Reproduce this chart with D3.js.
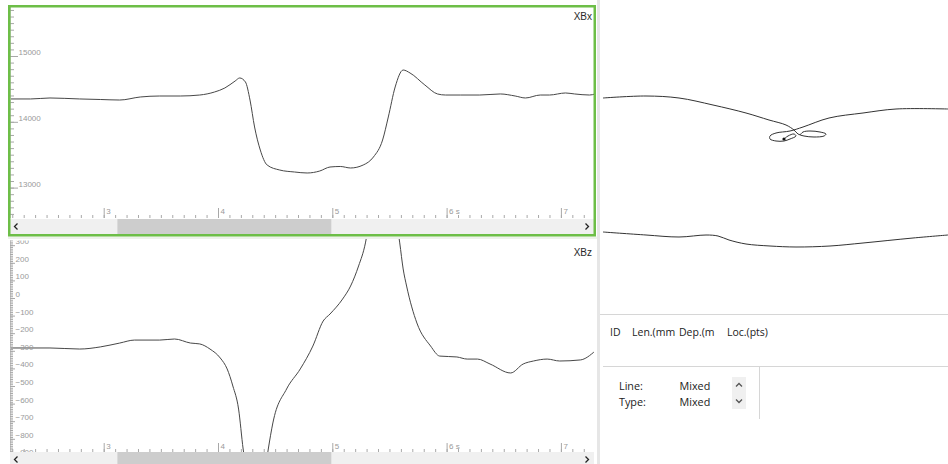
<!DOCTYPE html>
<html><head><meta charset="utf-8">
<script src="https://cdn.jsdelivr.net/npm/d3@7"></script>
<style>
html,body{margin:0;padding:0;background:#fff;overflow:hidden}
svg{display:block;font-family:"Liberation Sans",Arial,sans-serif}
</style></head><body>
<svg id="c" width="948" height="464"></svg>
<script>
// ---------- data ----------
const xbxTime  = [2.18,2.36,2.53,2.79,2.97,3.14,3.32,3.49,3.67,3.84,3.97,4.06,4.15,4.19,4.24,4.28,4.32,4.37,4.43,4.54,4.67,4.78,4.89,4.98,5.07,5.16,5.27,5.36,5.44,5.49,5.55,5.62,5.68,5.81,5.92,5.99,6.12,6.29,6.47,6.60,6.69,6.82,6.90,7.04,7.12,7.25,7.30];
const xbxValue = [14347,14347,14362,14347,14339,14331,14377,14392,14392,14407,14453,14514,14620,14666,14605,14331,13921,13571,13343,13267,13237,13222,13252,13313,13321,13298,13343,13465,13723,14073,14529,14787,14742,14559,14423,14407,14407,14407,14423,14392,14362,14407,14407,14438,14423,14407,14423];
const xbzTime  = [2.18,2.53,2.79,2.97,3.14,3.27,3.49,3.62,3.76,3.84,3.93,4.02,4.08,4.13,4.18,4.22,4.28,4.33,4.39,4.44,4.48,4.60,4.72,4.83,4.92,4.98,5.09,5.16,5.23,5.29,5.35,5.44,5.52,5.59,5.62,5.65,5.74,5.86,5.94,6.09,6.18,6.27,6.38,6.56,6.67,6.76,6.88,6.99,7.17,7.30];
const xbzValue = [-284,-284,-290,-278,-256,-239,-239,-233,-256,-261,-290,-341,-403,-500,-631,-858,-1080,-1160,-1080,-858,-710,-517,-403,-273,-131,-91,-6,68,182,313,560,720,600,313,165,68,-142,-273,-330,-335,-347,-347,-375,-426,-375,-358,-347,-358,-352,-301];
const timeTicks = [3,4,5,6,7];
const timeTickLabels = ["3","4","5","6 s","7"];
const xbxTicks = [13000,14000,15000];
const xbzTicks = [300,200,100,0,-100,-200,-300,-400,-500,-600,-700,-800,-900];
const channelNames = ["XBx","XBz"];
// XY trace (right view), arbitrary plan units
const traceUpper = [[5,98],[48,96],[81,98],[115,105],[148,113],[171,120],[188,125],[196,130],[200,134],[206,136],[216,137],[226,136],[228,134],[222,132],[212,131],[205,132],[202,135]];
const traceReturn = [[350,109],[298,109],[265,113],[231,118],[205,127],[192,131],[178,133],[172,136],[172,139],[178,141],[186,141],[192,139],[198,136],[196,134],[190,136],[186,139]];
const traceLower = [[5,232],[48,235],[81,237],[108,235],[120,236],[131,240],[148,244],[172,246],[198,247],[232,246],[265,243],[315,238],[350,235]];
const traceMarker = [[186,139]];
const tableHeaders = ["ID","Len.(mm","Dep.(m","Loc.(pts)"];
const propLabels = ["Line:","Type:"];
const propValues = ["Mixed","Mixed"];

// ---------- drawing ----------
const svg = d3.select("#c");
svg.append("rect").attr("width",948).attr("height",464).attr("fill","#fff");
const defs = svg.append("defs");
defs.append("clipPath").attr("id","clipTop").append("rect").attr("x",10).attr("y",7).attr("width",584).attr("height",211);
defs.append("clipPath").attr("id","clipBot").append("rect").attr("x",10).attr("y",239).attr("width",584).attr("height",213);
defs.append("clipPath").attr("id","clipBotAx").append("rect").attr("x",10).attr("y",240.5).attr("width",584).attr("height",211.5);

const x = d3.scaleLinear().domain([3,7]).range([103.7,560.9]);
const yTop = d3.scaleLinear().domain([13000,15000]).range([187.6,56]);
const yBot = d3.scaleLinear().domain([-800,200]).range([438.8,262.8]);

const tickCol = "#a8a8a8", labCol = "#9a9a9a", lineCol = "#474747";

function chevron(g, cx, cy, dir){
  const p = dir==="l" ? `M${cx+1.5},${cy-3}L${cx-1.5},${cy}L${cx+1.5},${cy+3}` :
            dir==="r" ? `M${cx-1.5},${cy-3}L${cx+1.5},${cy}L${cx-1.5},${cy+3}` :
            dir==="u" ? `M${cx-3},${cy+1.5}L${cx},${cy-1.5}L${cx+3},${cy+1.5}` :
                        `M${cx-3},${cy-1.5}L${cx},${cy+1.5}L${cx+3},${cy-1.5}`;
  g.append("path").attr("d",p).attr("fill","none").attr("stroke", dir==="l"||dir==="r" ? "#222":"#555").attr("stroke-width",1.3);
}

function drawPanel(opt){
  const g = svg.append("g");
  const y = opt.y;
  const line = d3.line().x(d=>x(d[0])).y(d=>y(d[1])).curve(d3.curveMonotoneX);
  const data = opt.t.map((t,i)=>[t,opt.v[i]]);
  g.append("g").attr("clip-path",`url(#${opt.clip})`)
    .append("path").datum(data).attr("d",line)
    .attr("fill","none").attr("stroke",lineCol).attr("stroke-width",1);

  const ya = g.append("g").attr("clip-path",`url(#${opt.axClip})`);
  ya.append("line").attr("x1",10.5).attr("x2",10.5).attr("y1",opt.top).attr("y2",opt.axisY).attr("stroke","#c8c8c8");
  ya.append("g").attr("transform","translate(10,0)")
    .call(d3.axisRight(y).tickValues(opt.minorY).tickSize(opt.minorLen).tickFormat(""))
    .call(s=>{s.select(".domain").remove(); s.selectAll("line").attr("stroke",tickCol);});
  ya.append("g").attr("transform","translate(10,0)")
    .call(d3.axisRight(y).tickValues(opt.majorY).tickSize(opt.majorLen).tickFormat(d3.format("d")))
    .call(s=>{
      s.select(".domain").remove();
      s.selectAll("line").attr("stroke",tickCol);
      s.selectAll("text").attr("x",opt.labX).attr("y",-1.5).attr("dy",0).attr("text-anchor","start")
        .attr("fill",labCol).attr("font-size",8).attr("font-family","Liberation Sans,Arial,sans-serif");
    });

  const xa = g.append("g").attr("transform",`translate(0,${opt.axisY})`);
  const minorX = d3.range(22,73).map(d=>d/10);
  xa.call(d3.axisTop(x).tickValues(minorX).tickSize(3).tickFormat(""))
    .call(s=>{s.select(".domain").remove(); s.selectAll("line").attr("stroke",tickCol);});
  const xb = g.append("g").attr("transform",`translate(0,${opt.axisY})`);
  xb.call(d3.axisTop(x).tickValues(timeTicks).tickSize(opt.xMajorLen).tickFormat((d,i)=>timeTickLabels[i]))
    .call(s=>{
      s.select(".domain").remove();
      s.selectAll("line").attr("stroke",tickCol);
      s.selectAll("text").attr("x",2).attr("y",-opt.xMajorLen+5.5).attr("dy",0).attr("text-anchor","start")
        .attr("fill",labCol).attr("font-size",8).attr("font-family","Liberation Sans,Arial,sans-serif");
    });

  g.append("rect").attr("x",10).attr("y",opt.sbY).attr("width",584).attr("height",opt.sbH).attr("fill","#f0f0f0");
  g.append("rect").attr("x",x(3.12)).attr("y",opt.sbY).attr("width",x(5.0)-x(3.12)-1).attr("height",opt.sbH).attr("fill","#cdcdcd");
  chevron(g,16,opt.sbY+7.5,"l");
  chevron(g,587,opt.sbY+7.5,"r");

  g.append("text").attr("x",592).attr("y",opt.nameY).attr("text-anchor","end")
    .attr("font-size",10).attr("fill","#2a2a2a").text(opt.name);
  return g;
}

svg.append("rect").attr("x",597).attr("y",0).attr("width",3).attr("height",464).attr("fill","#e6e6e6");
svg.append("rect").attr("x",8).attr("y",236.5).attr("width",589).attr("height",2.5).attr("fill","#edf2ea");

drawPanel({y:yTop,t:xbxTime,v:xbxValue,clip:"clipTop",axClip:"clipTop",top:7,axisY:218,
  minorY:d3.range(12600,15800,100),majorY:xbxTicks,minorLen:4,majorLen:8,labX:8.5,
  xMajorLen:10,sbY:219,sbH:15,nameY:19.5,name:channelNames[0]});
drawPanel({y:yBot,t:xbzTime,v:xbzValue,clip:"clipBot",axClip:"clipBotAx",top:239,axisY:452,
  minorY:d3.range(-900,360,10),majorY:xbzTicks,minorLen:3,majorLen:5,labX:5.5,
  xMajorLen:9,sbY:452,sbH:15,nameY:255.5,name:channelNames[1]});

svg.append("rect").attr("x",9.25).attr("y",6.25).attr("width",585.5).attr("height",229)
  .attr("fill","none").attr("stroke","#6dbe47").attr("stroke-width",2.5);

// ---------- right view ----------
const px = d3.scaleLinear().domain([0,350]).range([598,948]);
const py = d3.scaleLinear().domain([0,315]).range([0,315]);
const right = svg.append("g");
right.append("clipPath").attr("id","clipR").append("rect").attr("x",600).attr("y",0).attr("width",348).attr("height",313);
const rg = right.append("g").attr("clip-path","url(#clipR)");
const xyLine = d3.line().x(d=>px(d[0])).y(d=>py(d[1])).curve(d3.curveCatmullRom.alpha(0.5));
[traceUpper,traceReturn,traceLower].forEach(tr=>{
  rg.append("path").datum(tr).attr("d",xyLine).attr("fill","none").attr("stroke","#333").attr("stroke-width",1);
});
rg.selectAll("circle.m").data(traceMarker).join("circle").attr("class","m")
  .attr("cx",d=>px(d[0])).attr("cy",d=>py(d[1])).attr("r",1.6).attr("fill","#111");

right.append("line").attr("x1",600).attr("x2",948).attr("y1",314.5).attr("y2",314.5).attr("stroke","#d6d6d6");
right.append("line").attr("x1",603).attr("x2",948).attr("y1",366.5).attr("y2",366.5).attr("stroke","#d6d6d6");
right.append("line").attr("x1",759.5).attr("x2",759.5).attr("y1",366).attr("y2",419).attr("stroke","#d6d6d6");

const headX = [610,632,679,727];
right.selectAll("text.h").data(tableHeaders).join("text").attr("class","h")
  .attr("x",(d,i)=>headX[i]).attr("y",335.5).attr("font-family","'Open Sans',sans-serif")
  .attr("font-size",10.5).attr("fill","#222").text(d=>d);
right.selectAll("text.pl").data(propLabels).join("text").attr("class","pl")
  .attr("x",619).attr("y",(d,i)=>389.5+i*16.5).attr("font-family","'Open Sans',sans-serif")
  .attr("font-size",10.8).attr("fill","#222").text(d=>d);
right.selectAll("text.pv").data(propValues).join("text").attr("class","pv")
  .attr("x",679.5).attr("y",(d,i)=>389.5+i*16.5).attr("font-family","'Open Sans',sans-serif")
  .attr("font-size",10.8).attr("fill","#222").text(d=>d);
right.append("rect").attr("x",732).attr("y",377).attr("width",14).attr("height",32).attr("fill","#f0f0f0");
chevron(right,739,385,"u");
chevron(right,739,401,"d");
</script>
</body></html>
